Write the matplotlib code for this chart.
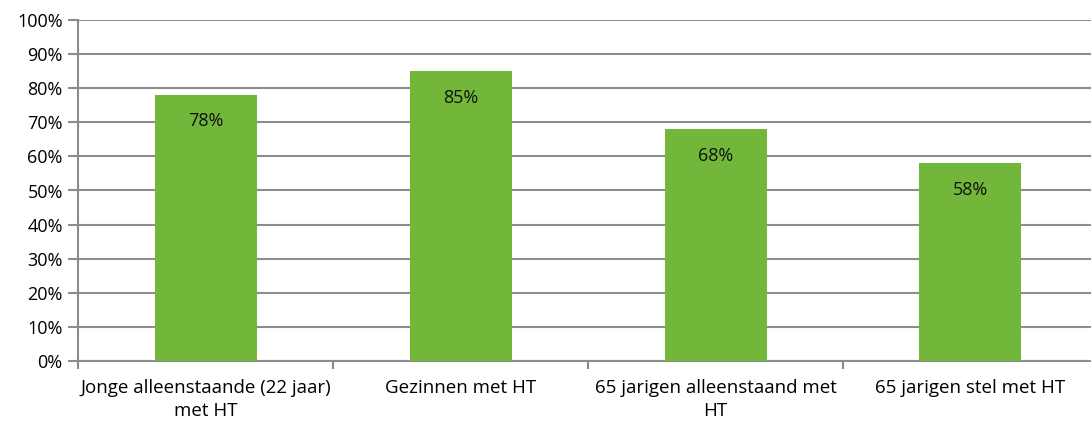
import matplotlib
matplotlib.use("Agg")
import matplotlib.pyplot as plt
from matplotlib.ticker import PercentFormatter

categories = [
    "Jonge alleenstaande (22 jaar)\nmet HT",
    "Gezinnen met HT",
    "65 jarigen alleenstaand met\nHT",
    "65 jarigen stel met HT",
]
values = [78, 85, 68, 58]
y_ticks = list(range(0, 101, 10))

plt.rcParams["font.family"] = ["Open Sans", "DejaVu Sans"]

fig = plt.figure(figsize=(10.91, 4.23), dpi=100)
ax = fig.add_axes([78 / 1091, 1 - 361 / 423, 1 - 78 / 1091, 341 / 423])

grid_color = "#8c8c8c"
bar_color = "#72b73a"

x = list(range(len(categories)))
bars = ax.bar(x, values, width=0.40, color=bar_color, zorder=3)

for rect, v in zip(bars, values):
    ax.annotate(f"{v}%", (rect.get_x() + rect.get_width() / 2, v),
                xytext=(0, -19), textcoords="offset points",
                ha="center", va="center", fontsize=13, color="#111111", zorder=4)

ax.set_ylim(0, 100)
ax.set_xlim(-0.5, -0.5 + 1013 / 255)
ax.set_yticks(y_ticks)
ax.yaxis.set_major_formatter(PercentFormatter(decimals=0))
ax.yaxis.grid(True, color=grid_color, linewidth=1.5, zorder=0)
ax.set_axisbelow(True)

# category boundary ticks on the x axis
ax.set_xticks([i + 0.5 for i in range(len(categories) - 1)] + [-0.5])
ax.set_xticklabels([])
ax.set_xticks(x, minor=True)
ax.set_xticklabels(categories, minor=True, fontsize=13.5, linespacing=1.35)
ax.tick_params(axis="x", which="minor", length=0, pad=13)
ax.tick_params(axis="x", which="major", length=6, width=1.5, color=grid_color)
ax.tick_params(axis="y", length=7, width=1.5, color=grid_color, labelsize=13, pad=4)

for side in ("top", "right"):
    ax.spines[side].set_visible(False)
for side in ("left", "bottom"):
    ax.spines[side].set_color(grid_color)
    ax.spines[side].set_linewidth(1.5)

fig.savefig("out.png", dpi=100)
